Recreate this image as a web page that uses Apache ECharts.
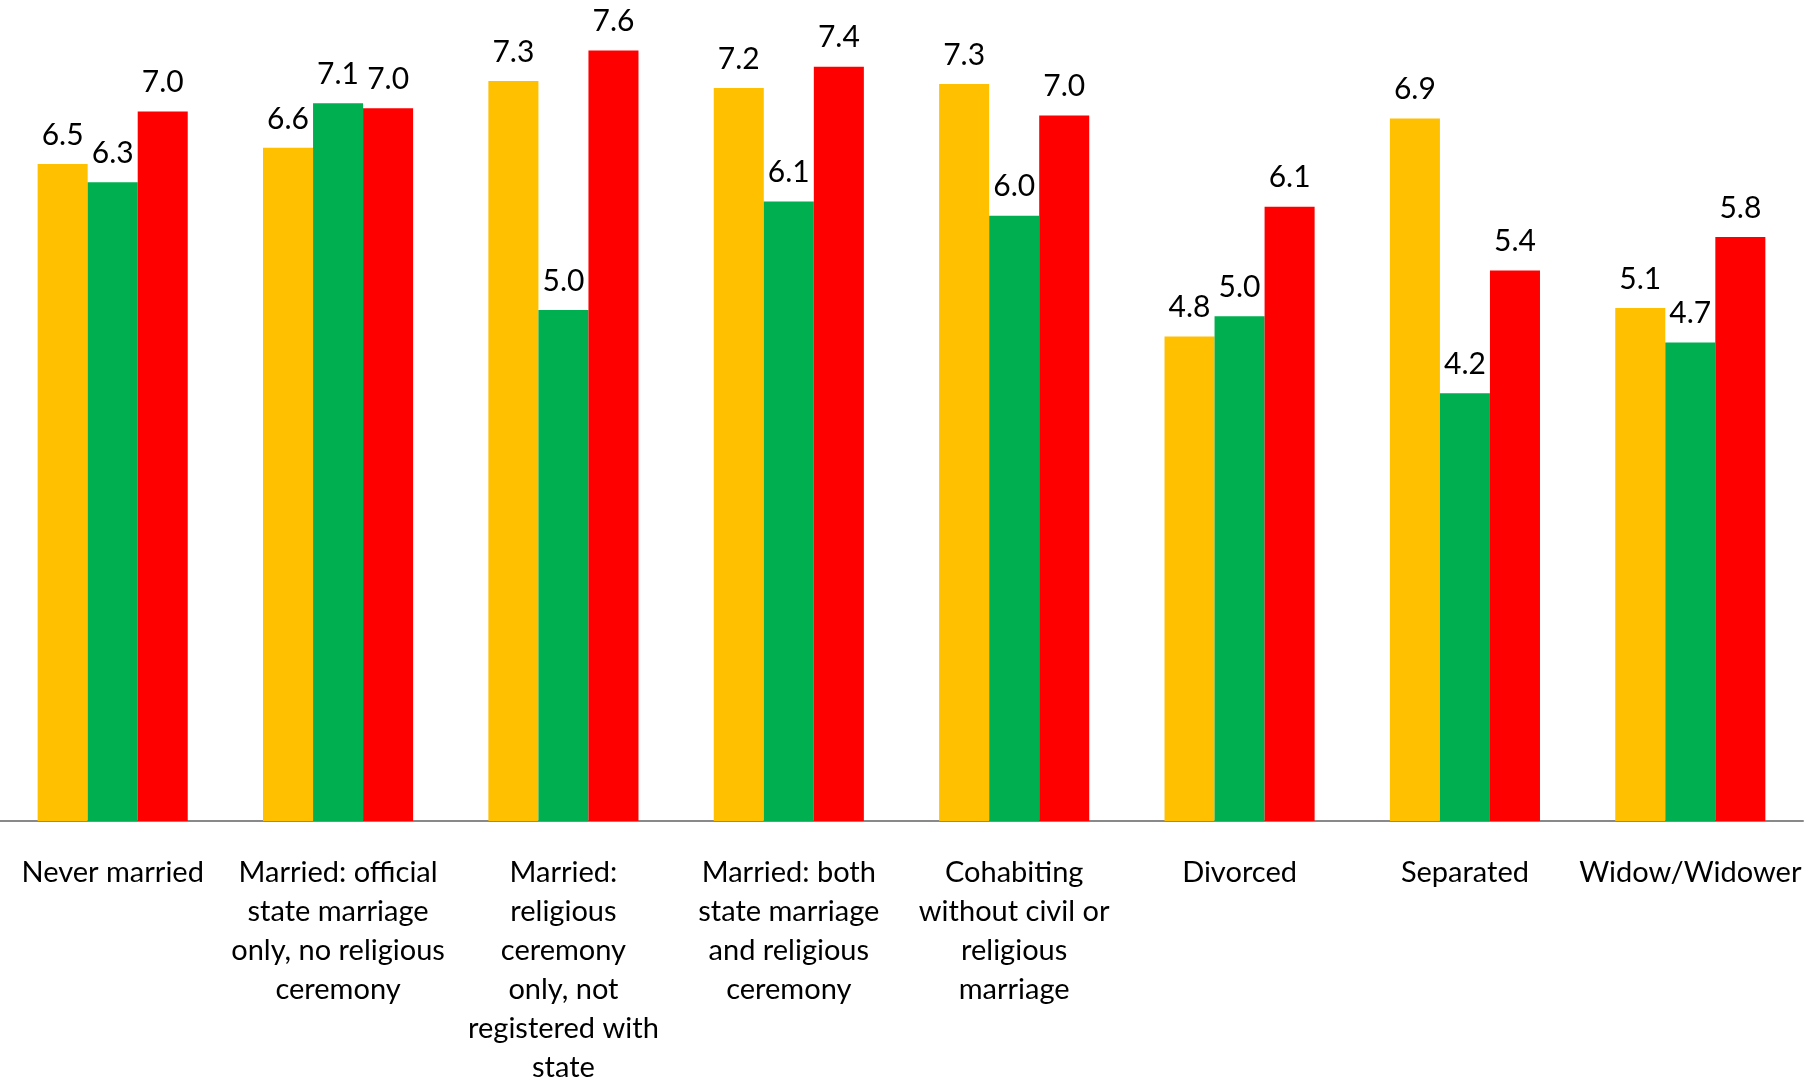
<!DOCTYPE html>
<html>
<head>
<meta charset="utf-8">
<script src="https://cdn.jsdelivr.net/npm/echarts@6/dist/echarts.min.js"></script>
<style>
  html, body { margin: 0; padding: 0; background: #fff; }
  #chart { width: 1818px; height: 1081px; }
</style>
</head>
<body>
<div id="chart"></div>
<script>
// categories (line breaks as in the original labels)
const categories = [
  'Never married',
  'Married: official\nstate marriage\nonly, no religious\nceremony',
  'Married:\nreligious\nceremony\nonly, not\nregistered with\nstate',
  'Married: both\nstate marriage\nand religious\nceremony',
  'Cohabiting\nwithout civil or\nreligious\nmarriage',
  'Divorced',
  'Separated',
  'Widow/Widower'
]

// three series
const yellowValues = [6.48, 6.64, 7.30, 7.23, 7.27, 4.78, 6.93, 5.06]
const greenValues  = [6.30, 7.08, 5.04, 6.11, 5.97, 4.98, 4.22, 4.72]
const redValues    = [7.00, 7.03, 7.60, 7.44, 6.96, 6.06, 5.43, 5.76]

const fontFamily = 'Lato, "Open Sans", sans-serif'

const chart = echarts.init(document.getElementById('chart'))

function barSeries (data, color) {
  return {
    type: 'bar',
    data: data,
    barGap: '0%',
    barCategoryGap: '33.4%',
    itemStyle: { color: color },
    label: {
      show: true,
      position: 'top',
      distance: 14,
      color: '#000',
      fontFamily: fontFamily,
      fontSize: 30,
      formatter: (p) => p.value.toFixed(1)
    }
  }
}

const option = {
  backgroundColor: '#fff',
  animation: false,
  grid: {
    left: 0,
    right: 15,
    top: 10,
    bottom: 260,
    containLabel: false,
    outerBoundsMode: 'none'
  },
  xAxis: {
    type: 'category',
    data: categories,
    axisLine: { show: true, lineStyle: { color: '#898989', width: 2 } },
    axisTick: { show: false },
    axisLabel: {
      interval: 0,
      margin: 32,
      color: '#000',
      fontFamily: fontFamily,
      fontSize: 29,
      lineHeight: 39,
      align: 'center',
      verticalAlign: 'top'
    }
  },
  yAxis: {
    type: 'value',
    min: 0,
    max: 8,
    show: false,
    splitLine: { show: false }
  },
  series: [
    barSeries(yellowValues, '#FFC000'),
    barSeries(greenValues, '#00B050'),
    barSeries(redValues, '#FF0000')
  ]
}

chart.setOption(option)
</script>
</body>
</html>
